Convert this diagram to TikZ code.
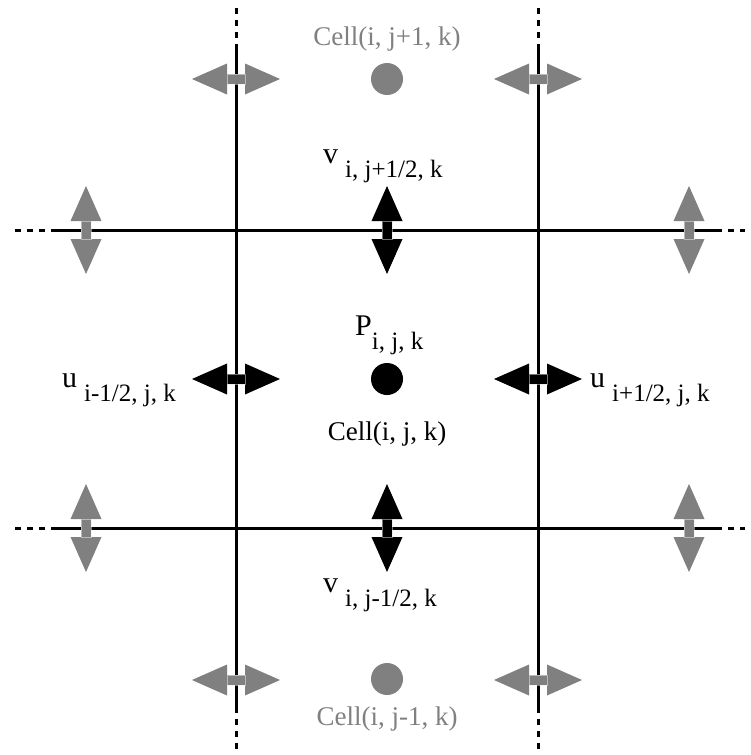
\documentclass[tikz,border=0pt]{standalone}
\usepackage{fontspec}
\setmainfont{Liberation Serif}
\usetikzlibrary{positioning}

% main letter with a lowered index
\newcommand{\lblsub}[3][7pt]{#2\hspace{#1}\raisebox{-14pt}{\fontsize{25}{27}\selectfont #3}}

\tikzset{
  pics/flux/.style={code={
    \fill (-44,0) -- (-9,-15.5) -- (-9,-5) -- (9,-5) -- (9,-15.5) -- (44,0)
      -- (9,15.5) -- (9,5) -- (-9,5) -- (-9,15.5) -- cycle;
    \draw[white, draw opacity=0.45, line width=0.8pt] (-9,-5) rectangle (9,5);
  }}
}

\begin{document}
\begin{tikzpicture}[
  x=1pt, y=-1pt,
  gridline/.style={line width=3pt},
  gridext/.style={line width=3pt, dash pattern=on 6pt off 6pt},
  cellpt/.style={circle, inner sep=0pt, minimum size=32pt, fill=black},
  cellptg/.style={cellpt, fill=gray},
  lbl/.style={font=\fontsize{30}{32}\selectfont, inner sep=0pt, anchor=base west},
  celllbl/.style={font=\fontsize{27}{29}\selectfont, inner sep=0pt}
]
\useasboundingbox (0,0) rectangle (751,755);

% grid lines
\foreach \gx in {236,538} {
  \draw[gridline] (\gx,50) -- (\gx,707);
  \draw[gridext] (\gx,50) -- (\gx,7);
  \draw[gridext] (\gx,707) -- (\gx,755);
}
\foreach \gy in {230,528} {
  \draw[gridline] (57,\gy) -- (716,\gy);
  \draw[gridext] (57,\gy) -- (10,\gy);
  \draw[gridext] (716,\gy) -- (745,\gy);
}

% neighbour fluxes
\foreach \fx/\fy in {236/79, 538/79, 236/680, 538/680}
  \pic[gray] at (\fx,\fy) {flux};
\foreach \fx/\fy in {86/230, 689/230, 86/528, 689/528}
  \pic[gray, rotate=90] at (\fx,\fy) {flux};

% fluxes of the cell
\pic[rotate=90] (vN) at (387,230) {flux};
\pic[rotate=90] (vS) at (387,528) {flux};
\pic (uW) at (236,379) {flux};
\pic (uE) at (538,379) {flux};

% cell centres
\node[cellpt] (P) at (387,379) {};
\node[cellptg] (cN) at (387,79) {};
\node[cellptg] (cS) at (387,679) {};

\node[celllbl, text=gray, above=11pt of cN] (cNlbl) {Cell(i, j+1, k)};
\node[celllbl, text=gray, below=11pt of cS] (cSlbl) {Cell(i, j-1, k)};
\node[celllbl, below=26pt of P] (Plbl2) {Cell(i, j, k)};

\node[lbl] (Plbl) at (355,335) {\lblsub[0pt]{P}{i, j, k}};
\node[lbl] (vNlbl) at (323,163) {\lblsub{v}{i, j+1/2, k}};
\node[lbl] (vSlbl) at (323,592) {\lblsub{v}{i, j-1/2, k}};
\node[lbl] (uWlbl) at (62,387) {\lblsub{u}{i-1/2, j, k}};
\node[lbl] (uElbl) at (590,387) {\lblsub{u}{i+1/2, j, k}};
\end{tikzpicture}
\end{document}
